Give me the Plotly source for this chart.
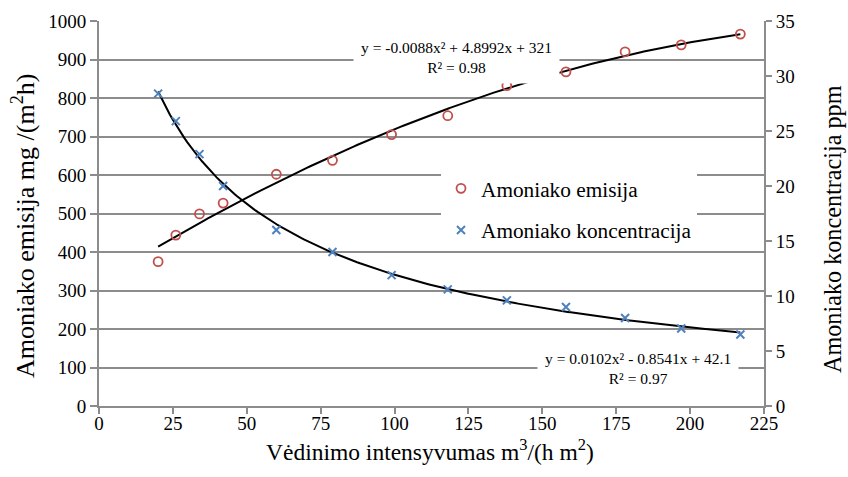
import numpy as np
import plotly.graph_objects as go

# Data
ventilation = [20, 26, 34, 42, 60, 79, 99, 118, 138, 158, 178, 197, 217]
emission = [375, 444, 499, 527, 602, 638, 705, 754, 832, 868, 920, 938, 966]
concentration = [28.4, 25.9, 22.9, 20.0, 16.0, 14.0, 11.9, 10.6, 9.6, 9.0, 8.0, 7.05, 6.5]

x_title = "Vėdinimo intensyvumas m<sup>3</sup>/(h m<sup>2</sup>)"
y_title = "Amoniako emisija mg /(m<sup>2</sup>h)"
y2_title = "Amoniako koncentracija ppm"
eq_emission = "y = -0.0088x² + 4.8992x + 321<br>R² = 0.98"
eq_conc = "y = 0.0102x² - 0.8541x + 42.1<br>R² = 0.97"

x = np.array(ventilation, dtype=float)
xs = np.linspace(x.min(), x.max(), 200)
# Trendlines fitted from the data
pe = np.polyfit(x, np.array(emission, dtype=float), 2)
ye = np.polyval(pe, xs)
pc = np.polyfit(np.log(x), np.log(np.array(concentration)), 2)
yc = np.exp(np.polyval(pc, np.log(xs)))

FONT = "'Liberation Serif', 'Times New Roman', Times, 'DejaVu Serif', serif"
GRID = "#8c8c8c"
RED = "#c0504d"
BLUE = "#4f81bd"

W, H = 848, 477
L, R, T, B = 99, 84, 21, 71
PW, PH = W - L - R, H - T - B


def px_x(p):
    return (p - L) / PW


def px_y(p):
    return (H - B - p) / PH


fig = go.Figure()
fig.add_trace(go.Scatter(x=xs, y=ye, mode="lines", line=dict(color="black", width=2),
                         showlegend=False, hoverinfo="skip"))
fig.add_trace(go.Scatter(x=xs, y=yc, mode="lines", line=dict(color="black", width=2),
                         showlegend=False, hoverinfo="skip", yaxis="y2"))
fig.add_trace(go.Scatter(x=ventilation, y=emission, mode="markers", name="Amoniako emisija",
                         legendgroup="a",
                         marker=dict(symbol="circle-open", size=9, color=RED, line=dict(width=1.8, color=RED))))
fig.add_trace(go.Scatter(x=ventilation, y=concentration, mode="markers", name="Amoniako koncentracija",
                         legendgroup="b", yaxis="y2",
                         marker=dict(symbol="x-thin", size=8, color=BLUE, line=dict(width=2, color=BLUE))))

fig.update_layout(
    width=W, height=H,
    margin=dict(l=L, r=R, t=T, b=B),
    paper_bgcolor="white", plot_bgcolor="white",
    font=dict(family=FONT, size=19, color="black"),
    xaxis=dict(range=[0, 225], dtick=25, showgrid=False, zeroline=False,
               showline=True, linecolor=GRID, linewidth=2, ticks="outside", ticklen=6,
               tickcolor=GRID, tickwidth=1.5, tickfont=dict(size=19), ticklabelstandoff=-7),
    yaxis=dict(range=[0, 1000], dtick=100, showgrid=True, gridcolor=GRID, gridwidth=2,
               zeroline=False, showline=True, linecolor=GRID, linewidth=2,
               ticks="outside", ticklen=7, tickcolor=GRID, tickwidth=1.5, tickfont=dict(size=19)),
    yaxis2=dict(range=[0, 35], dtick=5, overlaying="y", side="right", showgrid=False,
                zeroline=False, showline=True, linecolor=GRID, linewidth=2,
                ticks="outside", ticklen=6, tickcolor=GRID, tickwidth=1.5, tickfont=dict(size=19)),
    legend=dict(x=px_x(441), y=px_y(168), xanchor="left", yanchor="top", bgcolor="white",
                font=dict(size=21.3), tracegroupgap=11, itemwidth=30),
    annotations=[
        dict(x=121.1, y=905, xref="x", yref="y", text=eq_emission, showarrow=False,
             font=dict(size=15.5), bgcolor="white", borderpad=7, align="center"),
        dict(x=182.5, y=98.7, xref="x", yref="y", text=eq_conc, showarrow=False,
             font=dict(size=15.5), bgcolor="white", borderpad=7, align="center"),
        dict(x=px_x(430), y=px_y(450), xref="paper", yref="paper", text=x_title,
             showarrow=False, font=dict(size=23.5), xanchor="center", yanchor="middle"),
        dict(x=px_x(23), y=px_y(226), xref="paper", yref="paper", text=y_title, textangle=-90,
             showarrow=False, font=dict(size=26), xanchor="center", yanchor="middle"),
        dict(x=px_x(833), y=px_y(229), xref="paper", yref="paper", text=y2_title, textangle=-90,
             showarrow=False, font=dict(size=24.2), xanchor="center", yanchor="middle"),
    ],
)

fig.write_html("out.html")
